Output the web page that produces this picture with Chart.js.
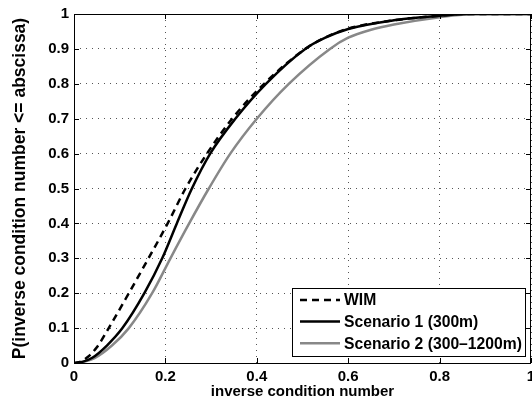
<!DOCTYPE html>
<html>
<head>
<meta charset="utf-8">
<script src="https://cdn.jsdelivr.net/npm/chart.js@4"></script>
<style>
  html, body { margin: 0; padding: 0; background: #fff; }
  #wrap { width: 532px; height: 405px; }
</style>
</head>
<body>
<div id="wrap"><canvas id="cdfChart" width="532" height="405"></canvas></div>
<script>
// --- data ---
const wimX = [0, 0.015, 0.03, 0.05, 0.076, 0.12, 0.163, 0.205, 0.244, 0.291, 0.346, 0.416, 0.506, 0.55, 0.6, 0.7, 0.8, 0.85, 1];
const wimY = [0, 0.004, 0.017, 0.045, 0.1, 0.2, 0.3, 0.4, 0.5, 0.6, 0.7, 0.8, 0.9, 0.933, 0.958, 0.982, 0.995, 1, 1];

const sc1X = [0, 0.02, 0.04, 0.072, 0.106, 0.154, 0.193, 0.225, 0.258, 0.298, 0.353, 0.42, 0.506, 0.55, 0.6, 0.7, 0.8, 0.86, 1];
const sc1Y = [0, 0.004, 0.015, 0.05, 0.1, 0.2, 0.3, 0.4, 0.5, 0.6, 0.7, 0.8, 0.9, 0.932, 0.957, 0.982, 0.995, 1, 1];

const sc2X = [0, 0.02, 0.045, 0.083, 0.12, 0.171, 0.211, 0.252, 0.295, 0.342, 0.4, 0.47, 0.56, 0.6, 0.65, 0.7, 0.8, 0.88, 1];
const sc2Y = [0, 0.003, 0.014, 0.05, 0.1, 0.2, 0.3, 0.4, 0.5, 0.6, 0.7, 0.8, 0.9, 0.932, 0.955, 0.97, 0.991, 1, 1];

const seriesNames = ['WIM', 'Scenario 1 (300m)', 'Scenario 2 (300\u20131200m)'];
const xTickLabels = ['0', '0.2', '0.4', '0.6', '0.8', '1'];
const yTickLabels = ['0', '0.1', '0.2', '0.3', '0.4', '0.5', '0.6', '0.7', '0.8', '0.9', '1'];

const toPoints = (xs, ys) => xs.map((x, i) => ({ x: x, y: ys[i] }));
const FONT = 'Liberation Sans, Arial, Helvetica, sans-serif';

// kotak sumbu + tick ke dalam (gaya MATLAB)
const boxPlugin = {
  id: 'boxPlugin',
  afterDraw(chart) {
    const { ctx, chartArea: a, scales } = chart;
    ctx.save();
    ctx.strokeStyle = '#000';
    ctx.lineWidth = 1;
    ctx.strokeRect(a.left + 0.5, a.top + 0.5, a.right - a.left - 1, a.bottom - a.top);
    ctx.beginPath();
    scales.x.ticks.forEach(t => {
      const px = Math.round(scales.x.getPixelForValue(t.value)) + 0.5;
      ctx.moveTo(px, a.bottom); ctx.lineTo(px, a.bottom - 5);
      ctx.moveTo(px, a.top); ctx.lineTo(px, a.top + 5);
    });
    scales.y.ticks.forEach(t => {
      const py = Math.round(scales.y.getPixelForValue(t.value)) + 0.5;
      ctx.moveTo(a.left, py); ctx.lineTo(a.left + 5, py);
      ctx.moveTo(a.right, py); ctx.lineTo(a.right - 5, py);
    });
    ctx.stroke();
    ctx.restore();
  }
};

// legenda di dalam plot, kanan bawah
const legendPlugin = {
  id: 'legendPlugin',
  afterDraw(chart) {
    const ctx = chart.ctx;
    const a = chart.chartArea;
    const boxW = 233, boxH = 68;
    const bx = a.right - 6 - boxW, by = a.bottom - 7 - boxH;
    ctx.save();
    ctx.fillStyle = '#fff';
    ctx.fillRect(bx, by, boxW, boxH);
    ctx.strokeStyle = '#000';
    ctx.lineWidth = 1;
    ctx.strokeRect(bx + 0.5, by + 0.5, boxW, boxH);
    ctx.font = 'bold 15.7px ' + FONT;
    ctx.textBaseline = 'middle';
    chart.data.datasets.forEach((ds, i) => {
      const ly = by + 12 + i * 21.6;
      ctx.beginPath();
      ctx.strokeStyle = ds.borderColor;
      ctx.lineWidth = ds.borderWidth;
      ctx.setLineDash(ds.borderDash || []);
      ctx.moveTo(bx + 8, ly);
      ctx.lineTo(bx + 48, ly);
      ctx.stroke();
      ctx.setLineDash([]);
      ctx.fillStyle = '#000';
      ctx.fillText(ds.label, bx + 52, ly + 1);
    });
    ctx.restore();
  }
};

const ctx = document.getElementById('cdfChart').getContext('2d');
new Chart(ctx, {
  type: 'line',
  data: {
    datasets: [
      { label: seriesNames[0], data: toPoints(wimX, wimY), borderColor: '#000', borderWidth: 2.5, borderDash: [7, 5] },
      { label: seriesNames[1], data: toPoints(sc1X, sc1Y), borderColor: '#000', borderWidth: 2.5 },
      { label: seriesNames[2], data: toPoints(sc2X, sc2Y), borderColor: '#888', borderWidth: 2.5 }
    ]
  },
  options: {
    responsive: false,
    animation: false,
    devicePixelRatio: 1,
    layout: { padding: { top: 14, right: 1, left: 0, bottom: 0 } },
    elements: {
      point: { radius: 0 },
      line: { cubicInterpolationMode: 'monotone', fill: false }
    },
    plugins: {
      legend: { display: false },
      tooltip: { enabled: false }
    },
    scales: {
      x: {
        type: 'linear',
        min: 0, max: 1,
        afterBuildTicks: s => { s.ticks = xTickLabels.map(v => ({ value: parseFloat(v) })); },
        afterFit: s => { s.height = 42; s.paddingLeft = 0; s.paddingRight = 0; },
        grid: { color: '#555', drawTicks: false, lineWidth: 1 },
        border: { display: false, dash: [1, 5] },
        ticks: {
          padding: 5, color: '#000', maxRotation: 0, autoSkip: false,
          font: { family: FONT, size: 15, weight: 'bold' },
          callback: (v, i) => xTickLabels[i]
        },
        title: {
          display: true, text: 'inverse condition number', color: '#000',
          font: { family: FONT, size: 15, weight: 'bold' },
          padding: { top: 0, bottom: 4.5 }
        }
      },
      y: {
        type: 'linear',
        min: 0, max: 1,
        afterBuildTicks: s => { s.ticks = yTickLabels.map(v => ({ value: parseFloat(v) })); },
        afterFit: s => { s.width = 74; s.paddingTop = 0; s.paddingBottom = 0; },
        grid: { color: '#555', drawTicks: false, lineWidth: 1 },
        border: { display: false, dash: [1, 5] },
        ticks: {
          padding: 5, color: '#000', autoSkip: false,
          font: { family: FONT, size: 15, weight: 'bold' },
          callback: (v, i) => yTickLabels[i]
        },
        title: {
          display: true, text: 'P(inverse condition number <= abscissa)', color: '#000',
          font: { family: FONT, size: 17.5, weight: 'bold' },
          padding: { top: 10, bottom: 0 }
        }
      }
    }
  },
  plugins: [boxPlugin, legendPlugin]
});
</script>
</body>
</html>
